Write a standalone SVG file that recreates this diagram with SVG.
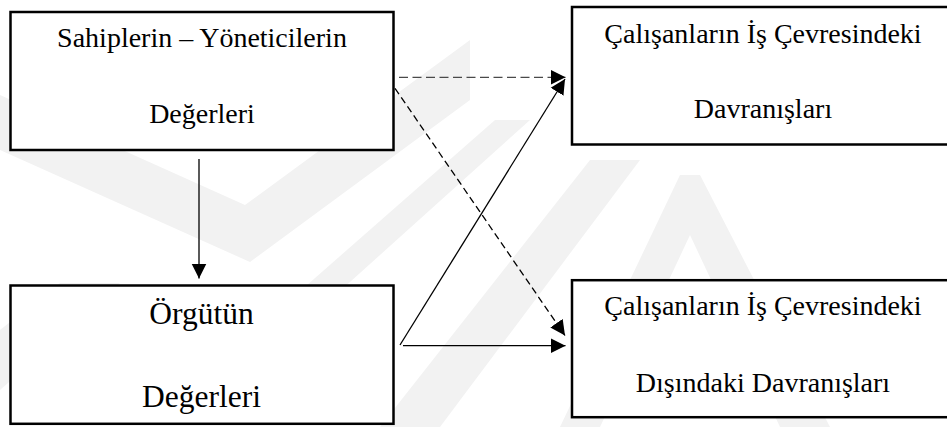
<svg xmlns="http://www.w3.org/2000/svg" width="947" height="427" viewBox="0 0 947 427">
<defs>
<style>
.box{fill:#fff;stroke:#000;stroke-width:2.5}
.ln{fill:none;stroke:#000;stroke-width:1.3}
.dh{stroke:#4a4a4a;stroke-dasharray:9 4.5}
.dd{stroke-dasharray:7 4}
.wm{fill:#f2f2f2}
</style>
<marker id="ah" markerUnits="userSpaceOnUse" markerWidth="16" markerHeight="16" viewBox="0 0 16 16" refX="15" refY="8" orient="auto">
<path d="M0,0.5 L15,8 L0,15.5 z" fill="#000"/>
</marker>
</defs>
<rect width="947" height="427" fill="#fff"/>
<g id="watermark">
<polygon class="wm" points="0,95 245,205 470,40 470,100 250,262 0,150"/>
<polygon class="wm" points="290,300 330,300 530,120 495,120"/>
<polygon class="wm" points="380,427 440,427 640,160 590,160"/>
<polygon class="wm" points="560,427 600,427 690,235 780,427 830,427 700,175 680,175"/>
<polygon class="wm" points="0,330 0,390 120,283 60,283"/>
</g>
<g id="connectors">
<line class="ln" x1="199" y1="159" x2="199" y2="278.5" marker-end="url(#ah)"/>
<line class="ln dh" x1="399" y1="77.3" x2="565.5" y2="77.3" marker-end="url(#ah)"/>
<line class="ln" x1="400" y1="345" x2="565" y2="79" marker-end="url(#ah)"/>
<line class="ln dd" x1="395" y1="88.3" x2="565" y2="335.5" marker-end="url(#ah)"/>
<line class="ln" x1="403" y1="345.7" x2="565.5" y2="345.7" marker-end="url(#ah)"/>
</g>
<g font-family="Liberation Serif" font-size="28" text-anchor="middle" fill="#000">
<g id="n1">
<rect class="box" x="10.5" y="12" width="383" height="138"/>
<text x="202" y="46.7">Sahiplerin – Yöneticilerin</text>
<text x="202" y="122.7">Değerleri</text>
</g>
<g id="n2">
<rect class="box" x="572" y="7" width="390" height="137.5"/>
<text x="763" y="43.3">Çalışanların İş Çevresindeki</text>
<text x="763" y="118.3">Davranışları</text>
</g>
<g id="n3">
<rect class="box" x="10.5" y="285.5" width="383" height="138.3"/>
<text x="201.5" y="324.3" font-size="31.5">Örgütün</text>
<text x="201.5" y="406.7" font-size="31.5">Değerleri</text>
</g>
<g id="n4">
<rect class="box" x="572" y="280.2" width="390" height="137"/>
<text x="763" y="315">Çalışanların İş Çevresindeki</text>
<text x="763" y="391.7">Dışındaki Davranışları</text>
</g>
</g>
</svg>
